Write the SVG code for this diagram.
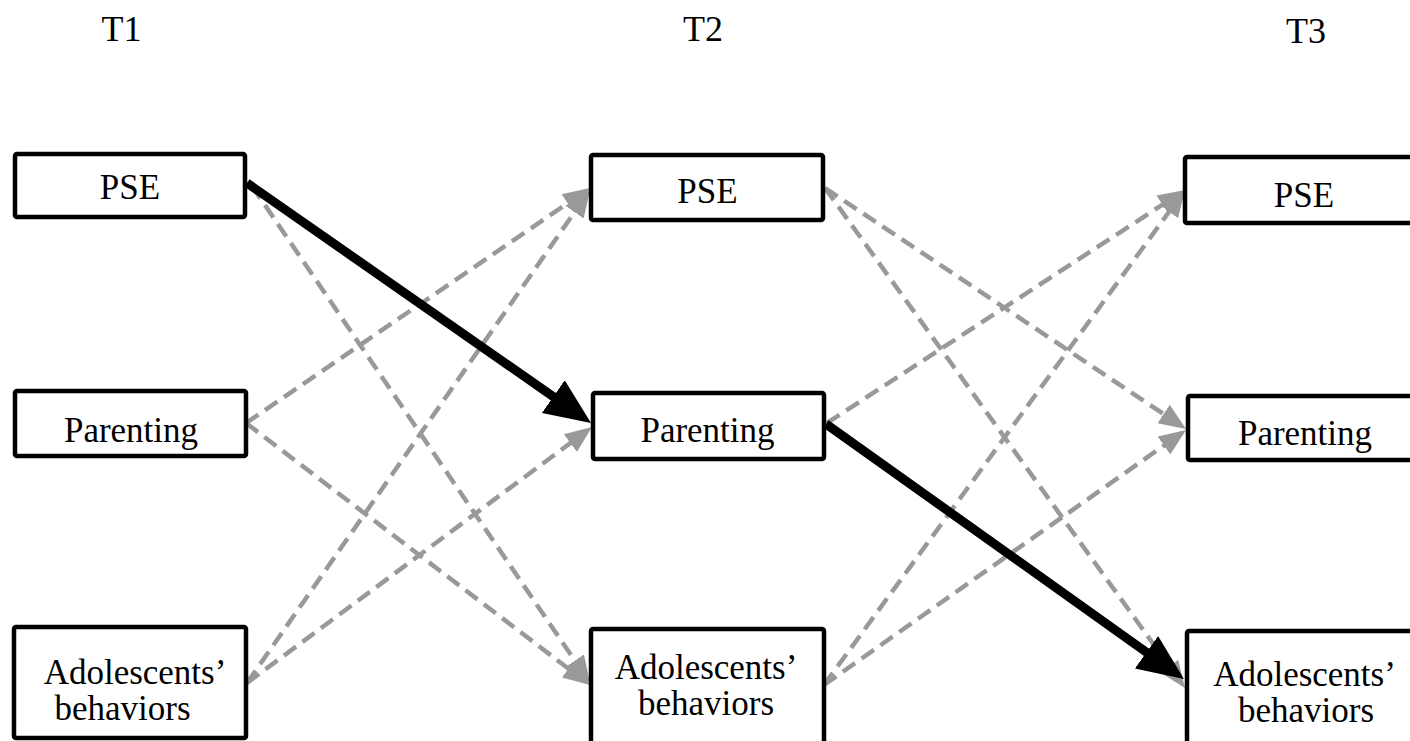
<svg xmlns="http://www.w3.org/2000/svg" width="1410" height="741" viewBox="0 0 1410 741">
  <style>
    .box { fill: #ffffff; stroke: #000000; stroke-width: 4.5; }
    .lbl { font-family: "Liberation Serif", "Times New Roman", serif; font-size: 35px; fill: #000000; text-anchor: middle; }
    .time { font-family: "Liberation Serif", "Times New Roman", serif; font-size: 36px; fill: #000000; text-anchor: middle; }
    .ns { fill: none; stroke: #999999; stroke-width: 4.5; stroke-dasharray: 15 8; marker-end: url(#headGray); }
    .sig { fill: none; stroke: #000000; stroke-width: 9; marker-end: url(#headBlack); }
  </style>
  <defs>
    <marker id="headGray" markerUnits="userSpaceOnUse" markerWidth="27" markerHeight="24" viewBox="0 0 27 24" refX="20" refY="12" orient="auto">
      <path d="M0,1 L27,12 L0,23 z" fill="#999999"/>
    </marker>
    <marker id="headBlack" markerUnits="userSpaceOnUse" markerWidth="46" markerHeight="42" viewBox="0 0 46 42" refX="35" refY="21" orient="auto">
      <path d="M0,1 L46,21 L0,41 z" fill="#000000"/>
    </marker>
  </defs>

  <!-- time-point headings -->
  <text class="time" x="121.5" y="41">T1</text>
  <text class="time" x="703" y="41">T2</text>
  <text class="time" x="1306" y="43">T3</text>

  <!-- cross-lagged paths -->
  <g id="connectors">
    <!-- T1 to T2, non-significant -->
    <line class="ns" x1="252" y1="186" x2="586.1" y2="677.2"/>
    <line class="ns" x1="246" y1="423" x2="584.2" y2="192.0"/>
    <line class="ns" x1="246" y1="423" x2="584.4" y2="680.8"/>
    <line class="ns" x1="247" y1="683" x2="586.0" y2="195.7"/>
    <line class="ns" x1="247" y1="683" x2="586.4" y2="431.2"/>
    <!-- T2 to T3, non-significant -->
    <line class="ns" x1="825" y1="188" x2="1180.2" y2="425.1"/>
    <line class="ns" x1="825" y1="188" x2="1180.9" y2="682.3"/>
    <line class="ns" x1="827" y1="423" x2="1179.2" y2="193.8"/>
    <line class="ns" x1="824" y1="685" x2="1180.9" y2="195.6"/>
    <line class="ns" x1="824" y1="685" x2="1180.3" y2="434.0"/>
    <!-- significant paths -->
    <line class="sig" x1="247" y1="183" x2="582.0" y2="416.7"/>
    <line class="sig" x1="826" y1="424" x2="1175.0" y2="672.6"/>
  </g>

  <!-- T1 -->
  <g id="t1-pse">
    <rect class="box" x="15" y="154" width="230" height="63" rx="2"/>
    <text class="lbl" x="130" y="199">PSE</text>
  </g>
  <g id="t1-parenting">
    <rect class="box" x="15" y="391" width="231" height="65" rx="2"/>
    <text class="lbl" x="131" y="442">Parenting</text>
  </g>
  <g id="t1-behaviors">
    <rect class="box" x="14" y="627" width="232" height="111" rx="2"/>
    <text class="lbl" x="135" y="684">Adolescents’</text>
    <text class="lbl" x="122.5" y="720">behaviors</text>
  </g>

  <!-- T2 -->
  <g id="t2-pse">
    <rect class="box" x="591" y="155" width="232" height="65" rx="2"/>
    <text class="lbl" x="707.5" y="203">PSE</text>
  </g>
  <g id="t2-parenting">
    <rect class="box" x="593" y="393" width="231" height="66" rx="2"/>
    <text class="lbl" x="707.5" y="442">Parenting</text>
  </g>
  <g id="t2-behaviors">
    <rect class="box" x="591" y="629" width="233" height="130" rx="2"/>
    <text class="lbl" x="706" y="679">Adolescents’</text>
    <text class="lbl" x="706" y="715">behaviors</text>
  </g>

  <!-- T3 -->
  <g id="t3-pse">
    <rect class="box" x="1185" y="157" width="240" height="66" rx="2"/>
    <text class="lbl" x="1304" y="207">PSE</text>
  </g>
  <g id="t3-parenting">
    <rect class="box" x="1188" y="396" width="240" height="64" rx="2"/>
    <text class="lbl" x="1305" y="445">Parenting</text>
  </g>
  <g id="t3-behaviors">
    <rect class="box" x="1187" y="631" width="240" height="130" rx="2"/>
    <text class="lbl" x="1304.5" y="686">Adolescents’</text>
    <text class="lbl" x="1306" y="722">behaviors</text>
  </g>
</svg>
